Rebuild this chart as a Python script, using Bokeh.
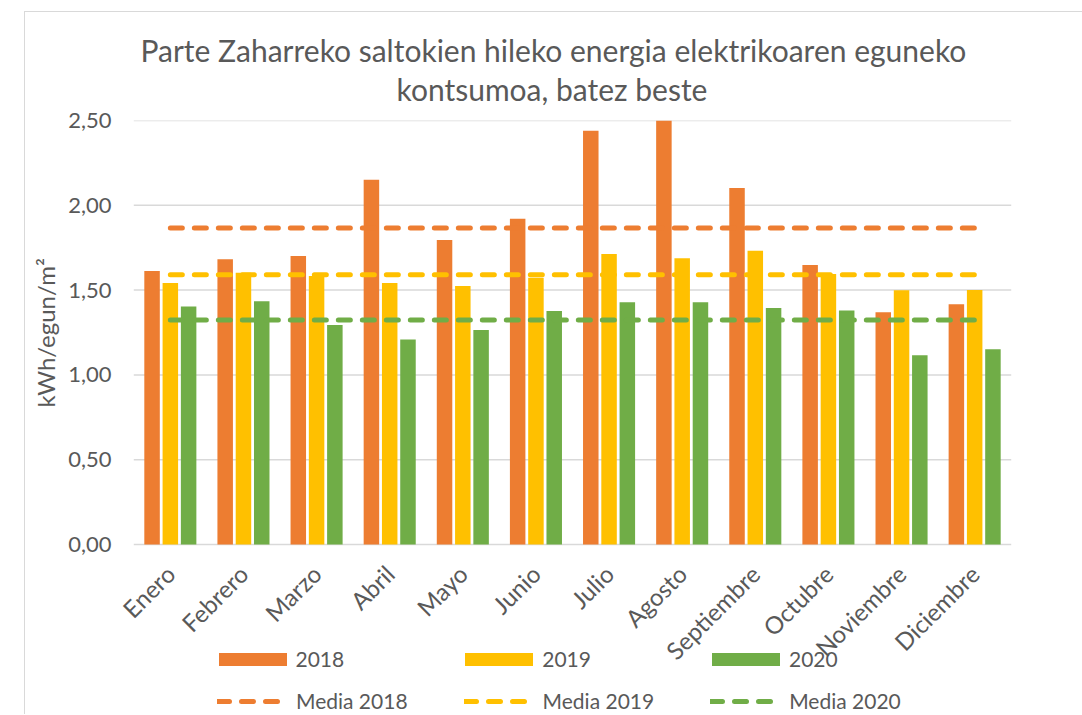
import math
from bokeh.plotting import figure
from bokeh.models import (FactorRange, Range1d, FixedTicker, CustomJSTickFormatter,
                          Legend, LegendItem, Title)
from bokeh.core.properties import value
from bokeh.transform import dodge
from bokeh.embed import file_html
from bokeh.resources import INLINE

months = ["Enero", "Febrero", "Marzo", "Abril", "Mayo", "Junio", "Julio",
          "Agosto", "Septiembre", "Octubre", "Noviembre", "Diciembre"]
years = ["2018", "2019", "2020"]
v2018 = [1.613, 1.682, 1.701, 2.151, 1.795, 1.921, 2.440, 2.560, 2.102, 1.648, 1.369, 1.416]
v2019 = [1.542, 1.603, 1.583, 1.542, 1.524, 1.573, 1.713, 1.688, 1.732, 1.595, 1.499, 1.500]
v2020 = [1.404, 1.434, 1.294, 1.208, 1.265, 1.377, 1.428, 1.428, 1.394, 1.379, 1.116, 1.151]
means = [1.866, 1.591, 1.324]
mean_labels = ["Media 2018", "Media 2019", "Media 2020"]
y_ticks = [0, 0.5, 1.0, 1.5, 2.0, 2.5]
title_lines = ["Parte Zaharreko saltokien hileko energia elektrikoaren eguneko",
               "kontsumoa, batez beste"]
y_label = "kWh/egun/m\u00b2"

colors = ["#ED7D31", "#FFC000", "#70AD47"]
TXT = "#595959"
GRID = "#D9D9D9"
FONT = "Lato"

# the frame reaches down to the legend rows; y=0 sits 424px below y=2.5
xr = FactorRange(*months, range_padding=0.25, range_padding_units="absolute")
p = figure(x_range=xr, y_range=Range1d(-1.0024, 2.5),
           frame_width=914, frame_height=594, output_backend="svg",
           toolbar_location=None, x_axis_location=None,
           min_border_left=115, min_border_right=53, min_border_top=120,
           min_border_bottom=0)
p.outline_line_color = None
p.border_fill_color = None
p.background_fill_color = "white"
p.styles = {
    "background-image": "linear-gradient(#D9D9D9,#D9D9D9), linear-gradient(#D9D9D9,#D9D9D9)",
    "background-size": "1px 100%, 100% 1px",
    "background-position": "24px 11px, 24px 11px",
    "background-repeat": "no-repeat",
}
p.title.text = ""

# titles (line 2 closest to the plot)
for line, so, off in zip(reversed(title_lines), [27, -25], [281, 25]):
    t = Title(text=line, align="left", text_font=FONT, text_font_size="30px",
              text_font_style="normal", text_color=TXT, offset=off, standoff=so)
    p.add_layout(t, "above")

# horizontal gridlines spanning the category area only
p.xgrid.grid_line_color = None
p.ygrid.grid_line_color = None
p.segment(x0=dodge("x0", -0.5, range=xr), x1=dodge("x1", 0.5, range=xr),
          y0="y", y1="y",
          source=dict(x0=[months[0]] * len(y_ticks), x1=[months[-1]] * len(y_ticks),
                      y=y_ticks),
          line_color=GRID, line_width=1.5)

series = [v2018, v2019, v2020]
offsets = [-0.25, 0.0, 0.25]
bar_r = []
for vals, off, c in zip(series, offsets, colors):
    r = p.vbar(x=dodge("x", off, range=xr), top="top", width=0.212,
               source=dict(x=months, top=vals), fill_color=c, line_color=None)
    bar_r.append(r)

line_r = []
for m, c in zip(means, colors):
    r = p.line(x=months, y=[m] * len(months), line_color=c, line_width=5,
               line_dash="12 12", line_cap="round")
    line_r.append(r)

# category labels along y = 0, rotated 45 degrees
p.text(x=months, y=[0] * len(months), text=months, angle=math.pi / 4,
       text_align="right", text_baseline="middle", y_offset=25,
       text_font=value(FONT), text_font_size=value("24px"), text_color=TXT)

# y axis
p.yaxis.ticker = FixedTicker(ticks=y_ticks)
p.yaxis.formatter = CustomJSTickFormatter(code="return tick.toFixed(2).replace('.', ',');")
p.yaxis.axis_line_color = None
p.yaxis.major_tick_line_color = None
p.yaxis.minor_tick_line_color = None
p.yaxis.major_tick_out = 0
p.yaxis.major_tick_in = 0
p.yaxis.minor_tick_out = 0
p.yaxis.major_label_text_font = FONT
p.yaxis.major_label_text_font_size = "22px"
p.yaxis.major_label_text_color = TXT
p.yaxis.major_label_standoff = 4

ylab = Title(text=y_label, align="left", offset=307, standoff=12, text_font=FONT,
             text_font_size="24px", text_font_style="normal", text_color=TXT)
p.add_layout(ylab, "left")

common = dict(orientation="horizontal", padding=0, margin=0,
              border_line_color=None, background_fill_alpha=0,
              label_text_font=FONT, label_text_font_size="21px",
              label_text_color=TXT, glyph_height=16)
lg1 = Legend(items=[LegendItem(label=years[i], renderers=[bar_r[i]]) for i in range(3)],
             location=(94.5, 43), glyph_width=85, label_standoff=1, spacing=112,
             **common)
lg2 = Legend(items=[LegendItem(label=mean_labels[i], renderers=[line_r[i]]) for i in range(3)],
             location=(102, 1), glyph_width=65, label_standoff=14, spacing=56,
             **common)
p.add_layout(lg1, "center")
p.add_layout(lg2, "center")

open("out.html", "w").write(file_html(p, INLINE))
